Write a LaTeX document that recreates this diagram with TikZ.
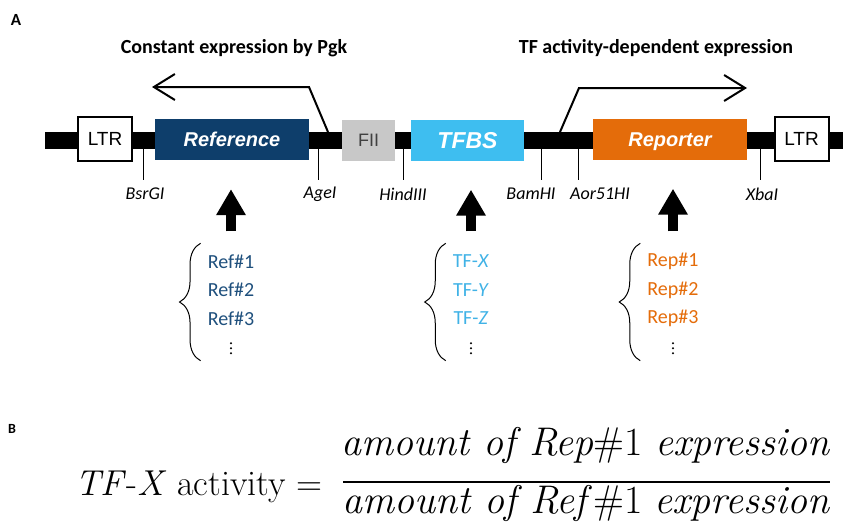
\documentclass[tikz,border=0pt]{standalone}
\usepackage{fontspec}
\newfontfamily\calibri{Carlito}
\newfontfamily\arial{Liberation Sans}
\usetikzlibrary{arrows.meta,positioning,decorations.pathreplacing}
\definecolor{refbox}{RGB}{14,62,107}
\definecolor{reftext}{RGB}{31,80,125}
\definecolor{tfblue}{RGB}{62,190,240}
\definecolor{tftext}{RGB}{64,178,230}
\definecolor{reporange}{RGB}{228,108,10}
\definecolor{fiigray}{RGB}{200,200,200}
\definecolor{fiitext}{RGB}{64,64,64}

\begin{document}
\begin{tikzpicture}[x=1pt,y=-1pt,
    every node/.style={inner sep=0pt},
    ltr/.style={draw,line width=2pt,fill=white,minimum width=54pt,minimum height=44pt,
               text height=13.6pt,text depth=0pt,font=\arial\fontsize{19}{19}\selectfont},
    part/.style={minimum height=41pt,text=white,text height=14.3pt,text depth=0pt,
               font=\arial\fontsize{20}{20}\selectfont\bfseries\itshape},
    site/.style={font=\calibri\itshape\fontsize{18}{18}\selectfont},
    cut/.style={line width=0.8pt},
    prom/.style={line width=2pt,-{Straight Barb[length=21pt,width=26pt]}},
    heading/.style={font=\calibri\bfseries\fontsize{20}{20}\selectfont},
    panel/.style={font=\calibri\bfseries\fontsize{17}{17}\selectfont},
    lib/.style={align=center,minimum height=117pt,inner xsep=7pt,
               font=\calibri\fontsize{20}{28.5}\selectfont},
    libbrace/.style={decorate,decoration={brace,amplitude=21pt},line width=1pt},
    pick/.style={line width=10pt,-{Triangle[length=26pt,width=28pt]},shorten >=29pt},
    eq/.style={font=\fontsize{40}{44}\selectfont}
  ]
    \useasboundingbox (0,0) rectangle (843,528);

    %% panel A: vector backbone
    \node[panel] (pa) at (16,20) {A};
    \coordinate (bbL) at (45,140);
    \coordinate (bbR) at (843,140);
    \draw[line width=17pt] (bbL) -- (bbR);

    \node[ltr] (ltrL) at (105,139) {LTR};
    \node[part,fill=refbox,minimum width=154pt] (ref) at (232,139.5) {Reference};
    \node[part,fill=fiigray,minimum width=53pt,text=fiitext,text height=12.9pt,
          font=\arial\fontsize{18}{18}\selectfont] (fii) at (368.5,140) {FII};
    \node[part,fill=tfblue,minimum width=113pt,text height=16.5pt,
          font=\arial\fontsize{23}{23}\selectfont\bfseries\itshape] (tfbs) at (467.5,140) {TFBS};
    \node[part,fill=reporange,minimum width=154pt] (rep) at (670,139) {Reporter};
    \node[ltr] (ltrR) at (801.5,139) {LTR};

    %% restriction sites
    \foreach \x in {143,318,403,541,578,760}
      \draw[cut] (\x,149) -- (\x,180);
    \node[site] (bsrgi) at (145,194) {BsrGI};
    \node[site] (agei) at (320,194) {AgeI};
    \node[site] (hind) at (403,194) {HindIII};
    \node[site] (bamhi) at (531,194) {BamHI};
    \node[site] (aor) at (600,194) {Aor51HI};
    \node[site] (xbai) at (762,194) {XbaI};

    %% promoters
    \coordinate (pgkroot) at (328,132);
    \coordinate (pgkbend) at (309,87);
    \coordinate (pgkend) at (152,87);
    \draw[prom] (pgkroot) -- (pgkbend) -- (pgkend);
    \coordinate (tfroot) at (560,132);
    \coordinate (tfbend) at (579,88);
    \coordinate (tfend) at (747,88);
    \draw[prom] (tfroot) -- (tfbend) -- (tfend);
    \node[heading] (pgktext) at (234,48) {Constant expression by Pgk};
    \node[heading] (tftext) at (656,48) {TF activity-dependent expression};

    %% libraries
    \node[lib,text=reftext] (reflib) at (231,290) {Ref\#1\\Ref\#2\\Ref\#3};
    \node[lib,text=tftext] (tflib) at (471,290)
      {TF-\textit{X}\\TF-\textit{Y}\\TF-\textit{Z}};
    \node[lib,text=reporange] (replib) at (673,290) {Rep\#1\\Rep\#2\\Rep\#3};
    \foreach \l in {reflib,tflib,replib}{
      \draw[libbrace] ([yshift=-12pt]\l.south west) -- ([yshift=-12pt]\l.north west);
      \foreach \k in {0,1,2}
        \fill (\l.south) ++(0,{-5.5+5*\k}) circle (1.1pt);
    }
    \draw[pick] (reflib.north) -- (reflib.north |- ref.south);
    \draw[pick] (tflib.north) -- (tflib.north |- tfbs.south);
    \draw[pick] (replib.north) -- (replib.north |- rep.south);

    %% panel B: activity ratio
    \node[panel,font=\calibri\bfseries\fontsize{14}{14}\selectfont] (pb) at (12,429) {B};
    \node[eq,font=\fontsize{36}{40}\selectfont,anchor=base west] (lhs) at (75,495)
      {\textit{TF}-\textit{X} activity =};
    \node[eq,anchor=base] (num) at (586,455)
      {\textit{amount of Rep}\#1 \textit{expression}};
    \node[eq,anchor=base] (den) at (586,513)
      {\textit{amount of Ref\,}\#1 \textit{expression}};
    \coordinate (barL) at (343,482);
    \coordinate (barR) at (830,482);
    \draw[line width=1.6pt] (barL) -- (barR);
  \end{tikzpicture}
\end{document}
